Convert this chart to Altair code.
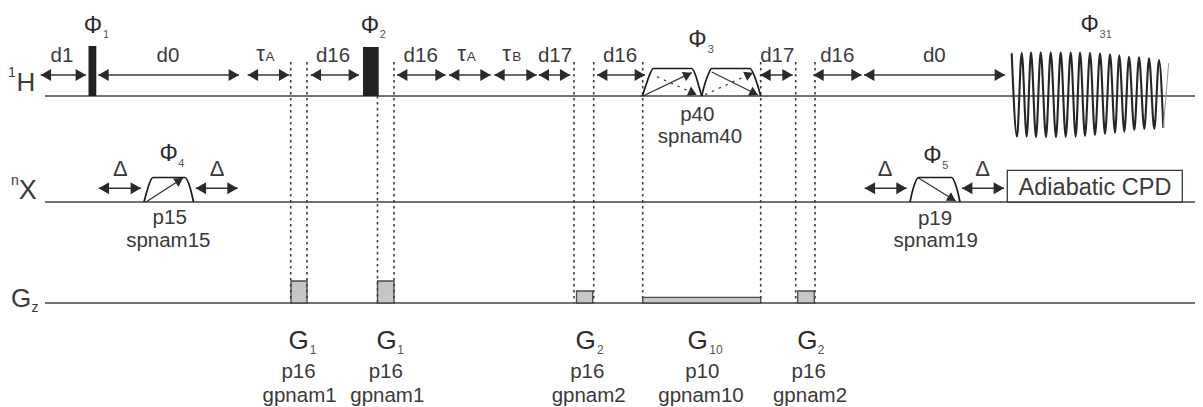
import math
import altair as alt
import pandas as pd

FONT = "Liberation Sans"
INK = "#3a3a3a"
DARK = "#222222"

# channel baselines
base_y = [96, 202, 303]
base_x0 = [45, 45, 45]
base_x1 = [1195, 1195, 1195]

# hard pulses
pulse_x0 = [88.5, 363]
pulse_x1 = [96.3, 378.7]
pulse_top = [46, 47]

# gradient blocks
grad_x0 = [291, 377.5, 576.5, 642.7, 797.7]
grad_x1 = [307, 394, 592.7, 760.7, 814.3]
grad_top = [281, 281, 291, 297.3, 291]

# dotted guides
guide_x = [290.7, 307, 377.5, 394, 574, 593.7, 642.7, 760.7, 795.7, 815]
guide_top = [62, 62, 96, 62, 62, 62, 62, 62, 62, 62]

# double arrows
arr_x0 = [40.7, 98.3, 247.7, 310.7, 397, 449, 494.3, 538.7, 597, 760.3, 813.3, 864,
          98.7, 195.7, 864.7, 962]
arr_x1 = [86, 239, 289.3, 359, 445.7, 490.7, 536.7, 570.3, 645, 792.7, 861.7, 1005,
          141, 237.7, 906.7, 1004]
arr_y = [75] * 12 + [188.3] * 4

# shaped pulses
shape_a_x = [144, 147, 149.5, 153, 185, 188.5, 191, 193.5]
shape_a_y = [202, 191, 183, 177.5, 177.5, 183, 191, 202]
shape_b_x = [642.3, 646, 649.5, 653.3, 691.7, 695.5, 698.5, 701.7]
shape_b_y = [96, 85, 75, 68.5, 68.5, 75, 85, 96]
shape_c_x = [701.7, 704.5, 708, 711.7, 750, 754, 757.5, 760.7]
shape_c_y = [96, 85, 75, 68.5, 68.5, 75, 85, 96]
shape_d_x = [910, 912.5, 915, 918.3, 951.7, 955, 957.5, 960]
shape_d_y = [202, 191, 183, 177.5, 177.5, 183, 191, 202]

# flip arrows inside shaped pulses
flip_x0 = [146, 643, 711.7, 918.5]
flip_y0 = [202, 96, 72, 178]
flip_x1 = [183, 691.7, 758, 955.7]
flip_y1 = [178, 72.7, 95, 201]
dflip_x0 = [657, 705]
dflip_y0 = [76.7, 94.7]
dflip_x1 = [696.7, 753]
dflip_y1 = [94.7, 72.7]

# FID extrema
fid_x = [1011.7, 1017, 1021.7, 1026.7, 1031, 1036, 1040.7, 1046, 1050.7, 1056, 1060.7,
         1065.7, 1070.7, 1075.7, 1080, 1085, 1090, 1095, 1100, 1105, 1110, 1115, 1119.3,
         1124.3, 1129, 1134.3, 1139, 1144.3, 1149, 1154.3, 1159, 1163.3]
fid_y = [53.3, 136.7, 52.7, 136.7, 52.3, 137.3, 52.3, 137.3, 52.3, 137.3, 52.3, 137,
         52.3, 136.7, 52.3, 136, 52.7, 135, 53.3, 134, 54.3, 132.7, 55.3, 131.7, 56.7,
         130, 57.3, 129, 58.3, 129, 60, 127.7]
fid_end_x = [1163.3, 1168.7]
fid_end_y = [127.7, 63]

# text labels
txt_d = ["d1", "d0", "d16", "d16", "d17", "d16", "d17", "d16", "d0"]
txt_d_x = [62, 168, 333, 420.7, 555, 620, 777.3, 837.3, 934.3]
tau_x = [260.7, 461.7, 506.7]
tau_sub = ["A", "A", "B"]
tau_sub_x = [270, 471.3, 516.7]
delta_x = [120.3, 217, 885, 982.7]

phi_x = [93, 370, 697.5, 168.7, 932.3, 1089.7]
phi_y = [32.7, 32.7, 46.7, 160.7, 163, 31.7]
phi_sub = ["1", "2", "3", "4", "5", "31"]
phi_sub_x = [106, 382.7, 710.7, 181.3, 945.3, 1105.7]
phi_sub_y = [38, 38, 52.7, 166.7, 168.7, 38]

chan = ["H", "1", "X", "n", "G", "z"]
chan_x = [26, 12, 27.7, 15, 21, 35]
chan_y = [91.3, 77, 199.3, 185, 306.7, 312.3]
chan_s = [26, 14, 27, 14, 26, 14]

g_sub = ["1", "1", "2", "10", "2"]
g_x = [298.5, 386.5, 585.7, 697.7, 807.3]
g_sub_x = [313, 400.7, 600.3, 716, 821]
gp_p = ["p16", "p16", "p16", "p10", "p16"]
gp_p_x = [298.5, 385.8, 587.3, 702.3, 808.7]
gp_n = ["gpnam1", "gpnam1", "gpnam2", "gpnam10", "gpnam2"]
gp_n_x = [299.6, 387.3, 588.7, 701, 810]

sp_p = ["p15", "p40", "p19"]
sp_p_x = [169.7, 697.3, 935]
sp_p_y = [224.3, 120.7, 224.5]
sp_n = ["spnam15", "spnam40", "spnam19"]
sp_n_x = [168.3, 700, 935.7]
sp_n_y = [246.5, 142.7, 247.3]

box_x0, box_x1, box_y0, box_y1 = [1007.3], [1182.3], [170.3], [202]

X = alt.X("x:Q", axis=None, scale=alt.Scale(domain=[8, 1195], nice=False, zero=False))
Y = alt.Y("y:Q", axis=None, scale=alt.Scale(domain=[8, 407], reverse=True, nice=False, zero=False))

rows = []
def t(s, x, y, size, color=INK):
    rows.append(dict(text=s, x=x, y=y, size=size, color=color))

for s, x in zip(txt_d, txt_d_x):
    t(s, x, 61.7, 20.5)
for x, s, sx in zip(tau_x, tau_sub, tau_sub_x):
    t("τ", x, 60.7, 22)
    t(s, sx, 61, 13.5)
for x in delta_x:
    t("Δ", x, 175.7, 22)
for x, y, s, sx, sy in zip(phi_x, phi_y, phi_sub, phi_sub_x, phi_sub_y):
    t("Φ", x, y, 23, "#2a2a2a")
    t(s, sx, sy, 11, "#555555")
for s, x, y, z in zip(chan, chan_x, chan_y, chan_s):
    t(s, x, y, z)
for s, x, sx, p, px, n, nx in zip(g_sub, g_x, g_sub_x, gp_p, gp_p_x, gp_n, gp_n_x):
    t("G", x, 349, 26, "#2a2a2a")
    t(s, sx, 354, 12, "#555555")
    t(p, px, 377.7, 20.5)
    t(n, nx, 401.7, 20.5)
for p, px, py, n, nx, ny in zip(sp_p, sp_p_x, sp_p_y, sp_n, sp_n_x, sp_n_y):
    t(p, px, py, 20.5)
    t(n, nx, ny, 20.5)
t("Adiabatic CPD", 1095, 195, 23.5)

def head(x0, y0, x1, y1, r=6):
    h = r * math.sqrt(3) / 2
    d = math.hypot(x1 - x0, y1 - y0)
    ux, uy = (x1 - x0) / d, (y1 - y0) / d
    return dict(x=x1 - ux * h, y=y1 - uy * h, a=(math.degrees(math.atan2(uy, ux)) + 90) % 360, s=(2 * r) ** 2)

heads = []
for a, b, y in zip(arr_x0, arr_x1, arr_y):
    heads.append(head(a, y, b, y))
    heads.append(head(b, y, a, y))
for a, c, b, d in zip(flip_x0, flip_y0, flip_x1, flip_y1):
    heads.append(head(a, c, b, d, 5))
for a, c, b, d in zip(dflip_x0, dflip_y0, dflip_x1, dflip_y1):
    heads.append(head(a, c, b, d, 5))

shapes = []
for i, (xs, ys) in enumerate([(shape_a_x, shape_a_y), (shape_b_x, shape_b_y),
                              (shape_c_x, shape_c_y), (shape_d_x, shape_d_y)]):
    shapes += [dict(k=i, o=j, x=a, y=b) for j, (a, b) in enumerate(zip(xs, ys))]

def segs(x0, y0, x1, y1):
    return pd.DataFrame(dict(x=x0, y=y0, x2=x1, y2=y1))

base_df = segs(base_x0, base_y, base_x1, base_y)
guide_df = segs(guide_x, guide_top, guide_x, [303] * len(guide_x))
arrow_df = segs(arr_x0, arr_y, arr_x1, arr_y)
flip_df = segs(flip_x0, flip_y0, flip_x1, flip_y1)
dflip_df = segs(dflip_x0, dflip_y0, dflip_x1, dflip_y1)
pulse_df = segs(pulse_x0, pulse_top, pulse_x1, [96, 96])
grad_df = segs(grad_x0, grad_top, grad_x1, [303] * 5)
box_df = segs(box_x0, box_y0, box_x1, box_y1)

def seg_layer(df, color, width, dash=None):
    kw = dict(color=color, strokeWidth=width)
    if dash:
        kw["strokeDash"] = dash
    return alt.Chart(df).mark_rule(**kw).encode(x=X, y=Y, x2="x2:Q", y2="y2:Q")

layers = [
    seg_layer(base_df, "#444444", 1.5),
    alt.Chart(pulse_df).mark_rect(color=DARK).encode(x=X, y=Y, x2="x2:Q", y2="y2:Q"),
    alt.Chart(grad_df).mark_rect(fill="#c6c6c6", stroke="#4a4a4a", strokeWidth=1.3).encode(x=X, y=Y, x2="x2:Q", y2="y2:Q"),
    alt.Chart(box_df).mark_rect(fill="white", stroke="#3a3a3a", strokeWidth=1.3).encode(x=X, y=Y, x2="x2:Q", y2="y2:Q"),
    seg_layer(guide_df, "#3c3c3c", 1.6, [2.5, 3.5]),
    seg_layer(arrow_df, "#3a3a3a", 1.5),
    seg_layer(flip_df, "#333333", 1.3),
    seg_layer(dflip_df, "#444444", 1.3, [2.5, 5]),
    alt.Chart(pd.DataFrame(shapes)).mark_line(color="#1a1a1a", strokeWidth=1.7, interpolate="monotone").encode(
        x=X, y=Y, detail="k:N", order="o:Q"),
    alt.Chart(pd.DataFrame(heads)).mark_point(shape="triangle-up", filled=True, color="#2a2a2a", opacity=1).encode(
        x=X, y=Y, angle=alt.Angle("a:Q", scale=None), size=alt.Size("s:Q", scale=None)),
    alt.Chart(pd.DataFrame(dict(x=fid_x, y=fid_y, o=range(len(fid_x))))).mark_line(
        color="#262626", strokeWidth=2.1, interpolate="monotone").encode(x=X, y=Y, order="o:Q"),
    alt.Chart(pd.DataFrame(dict(x=fid_end_x, y=fid_end_y))).mark_line(color="#999999", strokeWidth=1).encode(x=X, y=Y),
    alt.Chart(pd.DataFrame(rows)).mark_text(font=FONT, align="center", baseline="alphabetic").encode(
        x=X, y=Y, text="text:N", size=alt.Size("size:Q", scale=None), color=alt.Color("color:N", scale=None)),
]

chart = alt.layer(*layers).properties(
    width=1187, height=399, padding=0, autosize=alt.AutoSizeParams(type="none")
).configure_view(stroke=None)

chart.save("out.html", embed_options={"renderer": "svg", "actions": False})
